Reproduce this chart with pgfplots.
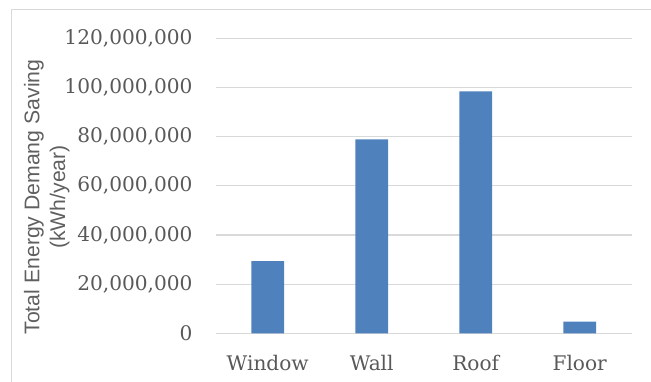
\documentclass[border=0pt]{standalone}
\usepackage{pgfplots}
\pgfplotsset{compat=1.18}
\usepackage{fontspec}
\setmainfont{DejaVu Serif}
\newfontfamily\labelfont{Liberation Sans}
\definecolor{barblue}{RGB}{79,129,189}
\definecolor{gridgray}{RGB}{217,217,217}
\definecolor{ticktext}{RGB}{89,89,89}
\definecolor{labeltext}{RGB}{96,96,96}
\begin{document}
\begin{tikzpicture}[x=1bp,y=1bp]
\path[use as bounding box] (-215.7bp,-48.7bp) rectangle (435.3bp,333.3bp);
\draw[gridgray, line width=1.2bp] (-204bp,-49bp) -- (-204bp,323.8bp) -- (436bp,323.8bp);
\begin{axis}[
  at={(0,0)}, anchor=south west,
  scale only axis,
  width=416bp, height=295bp,
  xmin=-0.5, xmax=3.5,
  ymin=0, ymax=120000000,
  ytick={0,20000000,40000000,60000000,80000000,100000000,120000000},
  yticklabels={0,{20,000,000},{40,000,000},{60,000,000},{80,000,000},{100,000,000},{120,000,000}},
  xtick={0,1,2,3},
  xticklabels={Window,Wall,Roof,Floor},
  axis line style={draw=none},
  tick style={draw=none},
  ymajorgrids,
  grid style={gridgray, line width=1.2bp},
  ticklabel style={font=\fontsize{20.2}{23}\selectfont, text=ticktext, inner sep=0pt},
  yticklabel style={xshift=-23bp},
  xticklabel style={anchor=north, yshift=-21.5bp},
  scaled y ticks=false,
  every axis y label/.style={at={(axis description cs:-0.406,0.462)}, rotate=90, anchor=center, align=center, font=\labelfont\fontsize{21.3}{26}\selectfont, text=labeltext},
  ylabel={Total Energy Demang Saving\\(kWh/year)},
  clip=false,
]
\addplot[ybar, bar width=32.7bp, fill=barblue, draw=none] coordinates {(0,29400000) (1,78900000) (2,98400000) (3,4700000)};
\end{axis}
\end{tikzpicture}
\end{document}
